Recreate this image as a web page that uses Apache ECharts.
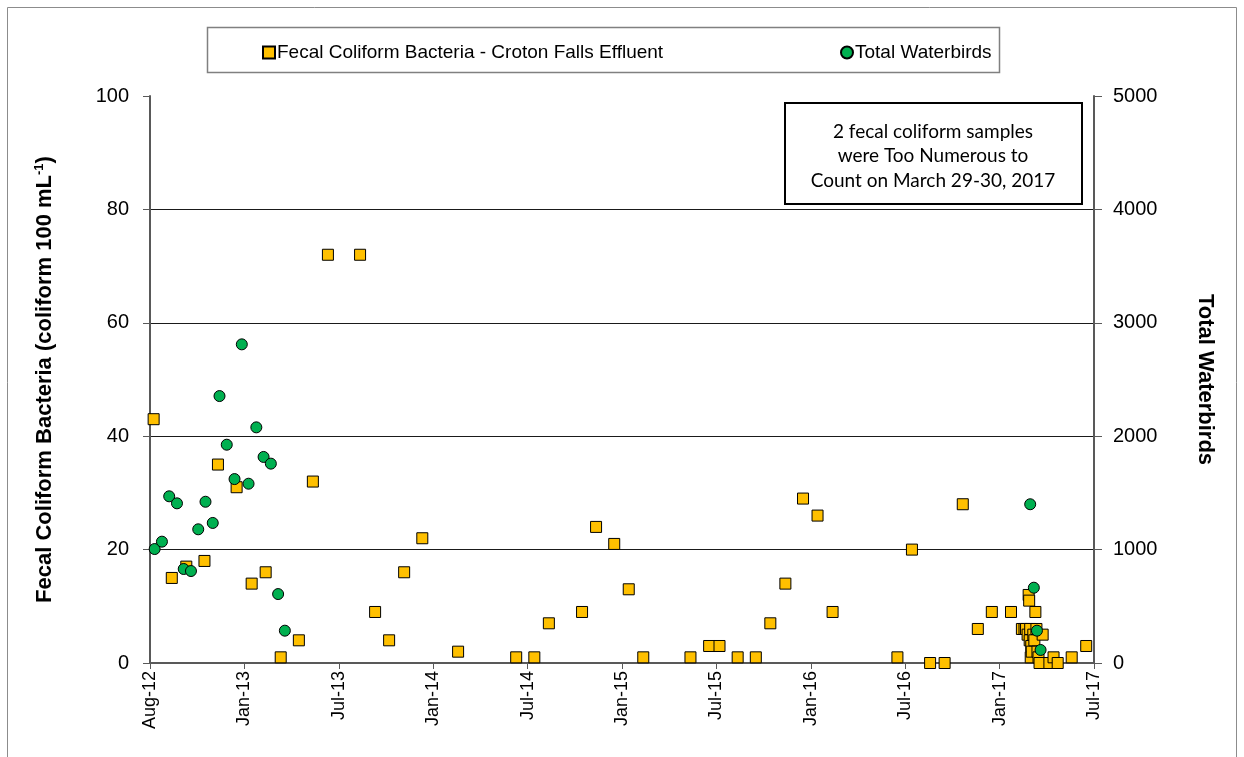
<!DOCTYPE html>
<html>
<head>
<meta charset="utf-8">
<title>Fecal Coliform Bacteria and Total Waterbirds</title>
<script src="https://cdn.jsdelivr.net/npm/echarts@6/dist/echarts.min.js"></script>
<style>
  html, body { margin: 0; padding: 0; background: #ffffff; }
  #chart { width: 1244px; height: 757px; }
</style>
</head>
<body>
<div id="chart"></div>
<script>
// Date axis: ticks every 182 days starting at the first of August 2012
const DAY_MS = 86400000;
const AXIS_START = '2012-08-01';
const TICK_DAYS = 182;
const TICK_COUNT = 10;
const MONTH_NAMES = ['Jan', 'Feb', 'Mar', 'Apr', 'May', 'Jun', 'Jul', 'Aug', 'Sep', 'Oct', 'Nov', 'Dec'];

// Fecal coliform bacteria, Croton Falls effluent (coliform 100 mL-1)
const coliformDates = [
  '2012-08-08', '2012-09-12', '2012-10-10', '2012-11-14', '2012-12-10',
  '2013-01-15', '2013-02-13', '2013-03-12', '2013-04-10', '2013-05-15', '2013-06-11',
  '2013-07-10', '2013-09-10', '2013-10-09', '2013-11-05', '2013-12-04',
  '2014-01-08', '2014-03-18', '2014-07-08', '2014-08-12', '2014-09-09', '2014-11-12', '2014-12-09',
  '2015-01-13', '2015-02-10', '2015-03-10', '2015-06-09', '2015-07-15', '2015-08-04',
  '2015-09-08', '2015-10-13', '2015-11-10', '2015-12-09',
  '2016-01-12', '2016-02-09', '2016-03-09', '2016-07-12', '2016-08-09', '2016-09-13',
  '2016-10-11', '2016-11-15', '2016-12-14',
  '2017-01-10', '2017-02-16',
  '2017-03-09', '2017-03-14', '2017-03-17', '2017-03-20', '2017-03-22', '2017-03-23',
  '2017-03-24', '2017-03-25', '2017-03-26', '2017-03-27', '2017-03-28', '2017-03-31',
  '2017-04-02', '2017-04-04', '2017-04-06', '2017-04-08', '2017-04-10', '2017-04-12', '2017-04-18',
  '2017-05-01', '2017-05-09', '2017-05-17', '2017-06-13', '2017-07-11'
];
const coliformValues = [
  43, 15, 17, 18, 35,
  31, 14, 16, 1, 4, 32,
  72, 72, 9, 4, 16,
  22, 2, 1, 1, 7, 9, 24,
  21, 13, 1, 1, 3, 3,
  1, 1, 7, 14,
  29, 26, 9, 1, 20, 0,
  0, 28, 6,
  9, 9,
  6, 6, 6, 5, 12, 11,
  4, 6, 1, 3, 2, 5,
  4, 9, 6, 2, 1, 0, 5,
  0, 1, 0, 1, 3
];

// Total waterbirds counted on the reservoir
const birdDates = [
  '2012-08-10', '2012-08-24', '2012-09-07', '2012-09-22', '2012-10-05', '2012-10-19',
  '2012-11-02', '2012-11-16', '2012-11-30', '2012-12-13', '2012-12-27',
  '2013-01-11', '2013-01-25', '2013-02-07', '2013-02-22', '2013-03-08', '2013-03-22',
  '2013-04-05', '2013-04-18',
  '2017-03-25', '2017-04-01', '2017-04-07', '2017-04-14'
];
const birdCounts = [
  1005, 1070, 1470, 1408, 829, 811,
  1179, 1422, 1235, 2354, 1925,
  1622, 2810, 1581, 2078, 1817, 1758,
  608, 285,
  1400, 664, 285, 115
];

const LEFT_TICKS = { min: 0, max: 100, interval: 20 };
const RIGHT_TICKS = { min: 0, max: 5000, interval: 1000 };

const NOTE_LINES = [
  '2 fecal coliform samples',
  'were Too Numerous to',
  'Count on March 29-30, 2017'
];

const FONT = '"Liberation Sans", Arial, sans-serif';
const COLIFORM_NAME = 'Fecal Coliform Bacteria - Croton Falls Effluent';
const BIRD_NAME = 'Total Waterbirds';

const toTime = s => Date.parse(s);
const coliformData = coliformDates.map((d, i) => [toTime(d), coliformValues[i]]);
const birdData = birdDates.map((d, i) => [toTime(d), birdCounts[i]]);

const xMin = toTime(AXIS_START);
const xInterval = TICK_DAYS * DAY_MS;
const xMax = xMin + TICK_COUNT * xInterval;

function monthLabel(v) {
  const d = new Date(v);
  return MONTH_NAMES[d.getUTCMonth()] + '-' + String(d.getUTCFullYear()).slice(2);
}

const chart = echarts.init(document.getElementById('chart'), null, { renderer: 'canvas' });

const axisLineStyle = { color: '#595959', width: 2 };
const legendText = { fontFamily: FONT, fontSize: 19, color: '#000', padding: [0, 0, 0, -3] };

chart.setOption({
  animation: false,
  backgroundColor: '#ffffff',
  textStyle: { fontFamily: FONT },
  grid: { left: 150, right: 150, top: 96, bottom: 94, containLabel: false },
  legend: [
    {
      data: [COLIFORM_NAME],
      left: 257, top: 38,
      itemWidth: 12, itemHeight: 12,
      textStyle: legendText,
      selectedMode: false
    },
    {
      data: [BIRD_NAME],
      left: 835, top: 38,
      itemWidth: 12, itemHeight: 12,
      textStyle: legendText,
      selectedMode: false
    }
  ],
  xAxis: {
    type: 'value',
    min: xMin, max: xMax, interval: xInterval,
    axisLine: { show: true, onZero: false, lineStyle: axisLineStyle },
    axisTick: { show: true, inside: false, length: 6, lineStyle: { color: '#595959', width: 1 } },
    splitLine: { show: false },
    axisLabel: {
      rotate: 90, margin: 8, color: '#000', fontFamily: FONT, fontSize: 18,
      formatter: monthLabel
    }
  },
  yAxis: [
    {
      type: 'value',
      min: LEFT_TICKS.min, max: LEFT_TICKS.max, interval: LEFT_TICKS.interval,
      position: 'left',
      name: '{t|Fecal Coliform Bacteria (coliform 100 mL}{s|-1}{t|)}',
      nameLocation: 'middle', nameRotate: 90, nameGap: 94,
      nameTextStyle: {
        rich: {
          t: { fontFamily: FONT, fontWeight: 'bold', fontSize: 22, color: '#000' },
          s: { fontFamily: FONT, fontWeight: 'bold', fontSize: 13, color: '#000', verticalAlign: 'top', padding: [0, 0, 10, 0] }
        }
      },
      axisLine: { show: true, lineStyle: axisLineStyle },
      axisTick: { show: true, inside: false, length: 7, lineStyle: { color: '#595959', width: 1 } },
      axisLabel: { margin: 21, color: '#000', fontFamily: FONT, fontSize: 20 },
      splitLine: { show: true, showMinLine: false, showMaxLine: false, lineStyle: { color: '#1a1a1a', width: 1 } }
    },
    {
      type: 'value',
      min: RIGHT_TICKS.min, max: RIGHT_TICKS.max, interval: RIGHT_TICKS.interval,
      position: 'right',
      name: BIRD_NAME,
      nameLocation: 'middle', nameRotate: -90, nameGap: 100,
      nameTextStyle: { fontFamily: FONT, fontWeight: 'bold', fontSize: 22, color: '#000' },
      axisLine: { show: true, lineStyle: axisLineStyle },
      axisTick: { show: true, inside: false, length: 8, lineStyle: { color: '#595959', width: 1 } },
      axisLabel: { margin: 19, color: '#000', fontFamily: FONT, fontSize: 20, formatter: v => String(v) },
      splitLine: { show: false }
    }
  ],
  series: [
    {
      name: COLIFORM_NAME,
      type: 'scatter',
      yAxisIndex: 0,
      symbol: 'rect',
      symbolSize: 11,
      itemStyle: { color: '#FFC000', borderColor: '#000', borderWidth: 1, opacity: 1 },
      data: coliformData,
      z: 2
    },
    {
      name: BIRD_NAME,
      type: 'scatter',
      yAxisIndex: 1,
      symbol: 'circle',
      symbolSize: 11,
      itemStyle: { color: '#00B050', borderColor: '#000', borderWidth: 1, opacity: 1 },
      data: birdData,
      z: 3
    }
  ],
  graphic: [
    {
      type: 'rect', z: -1, silent: true,
      shape: { x: 7.5, y: 7.5, width: 1229, height: 760 },
      style: { fill: 'none', stroke: '#8c8c8c', lineWidth: 1 }
    },
    {
      type: 'rect', z: 1, silent: true,
      shape: { x: 207.5, y: 27.5, width: 792, height: 45 },
      style: { fill: '#fff', stroke: '#808080', lineWidth: 1.5 }
    },
    {
      type: 'group', z: 10, silent: true,
      children: [
        {
          type: 'rect',
          shape: { x: 785, y: 103, width: 297, height: 101 },
          style: { fill: '#fff', stroke: '#000', lineWidth: 2 }
        },
        {
          type: 'text',
          x: 933, y: 119.5,
          style: {
            text: NOTE_LINES.join('\n'),
            fontFamily: 'Lato, "Open Sans", sans-serif',
            fontSize: 19, lineHeight: 24.5,
            fill: '#000', align: 'center', verticalAlign: 'top'
          }
        }
      ]
    }
  ]
});
</script>
</body>
</html>
